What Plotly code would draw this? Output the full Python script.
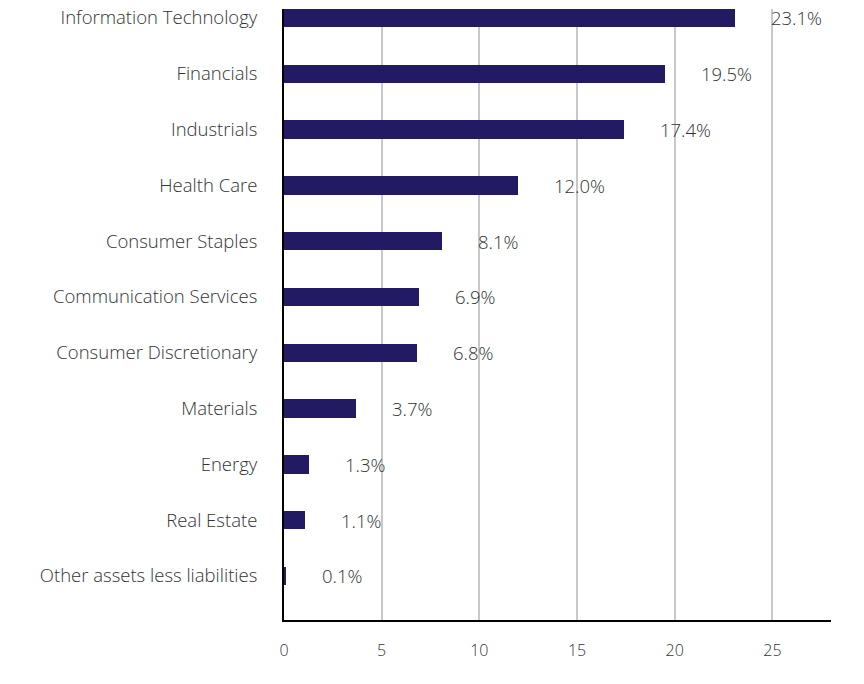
import plotly.graph_objects as go

sectors = ["Information Technology", "Financials", "Industrials", "Health Care",
           "Consumer Staples", "Communication Services", "Consumer Discretionary",
           "Materials", "Energy", "Real Estate", "Other assets less liabilities"]
values = [23.1, 19.5, 17.4, 12.0, 8.1, 6.9, 6.8, 3.7, 1.3, 1.1, 0.1]
value_labels = ["23.1%", "19.5%", "17.4%", "12.0%", "8.1%", "6.9%", "6.8%",
                "3.7%", "1.3%", "1.1%", "0.1%"]
x_ticks = [0, 5, 10, 15, 20, 25]

pos = list(range(len(sectors)))
FONT = dict(family="Open Sans", size=18.5, color="#333333", weight=300)
TICKFONT = dict(family="Open Sans", size=16, color="#333333", weight=300)

fig = go.Figure()
fig.add_trace(go.Bar(
    x=values, y=pos, orientation="h", width=0.33,
    marker=dict(color="#221b63", line=dict(width=0)),
    hoverinfo="skip",
))
for v, lab, p in zip(values, value_labels, pos):
    fig.add_annotation(x=v, y=p, text=lab, showarrow=False, xanchor="left",
                       xshift=34, font=FONT)

fig.update_layout(
    width=864, height=684,
    margin=dict(l=284, r=33, t=9, b=64, autoexpand=False),
    paper_bgcolor="white", plot_bgcolor="white",
    showlegend=False, font=FONT, bargap=0,
)
fig.update_xaxes(
    range=[0, 28], tickvals=x_ticks, ticktext=[str(t) for t in x_ticks],
    showgrid=True, gridcolor="#c8c8c8", gridwidth=2, zeroline=False,
    showline=True, linecolor="black", linewidth=2, ticks="",
    ticklabelstandoff=15, tickfont=TICKFONT, automargin=False,
)
fig.update_yaxes(
    range=[10.79, -0.16], tickvals=pos, ticktext=sectors,
    showgrid=False, zeroline=False, showline=True, linecolor="black",
    linewidth=2, ticks="", ticklabelstandoff=21, tickfont=FONT,
    ticklabeloverflow="allow", automargin=False,
)
fig.write_html("out.html", config={"displayModeBar": False},
               post_script="document.body.style.margin='0';document.body.style.padding='0';")
